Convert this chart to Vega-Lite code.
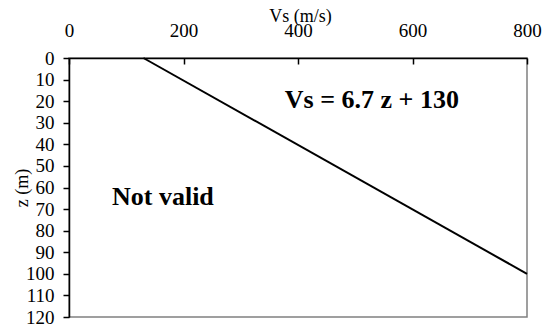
{
  "$schema": "https://vega.github.io/schema/vega-lite/v6.json",
  "width": 458,
  "height": 259,
  "autosize": {"type": "none"},
  "padding": {"left": 69, "top": 58, "right": 23, "bottom": 9},
  "background": "white",
  "config": {
    "font": "Liberation Serif",
    "view": {"stroke": "#808080", "strokeWidth": 1.5}
  },
  "encoding": {
    "x": {"field": "vs", "type": "quantitative", "scale": {"domain": [0, 800], "nice": false}, "axis": {"orient": "top", "title": "Vs (m/s)", "values": [0, 200, 400, 600, 800], "tickSize": -6, "labelPadding": 24, "titleY": -42, "titleBaseline": "middle", "titleX": 231, "labelFlush": false, "grid": false, "labelFont": "Liberation Serif", "titleFont": "Liberation Serif", "labelFontSize": 19, "titleFontSize": 18, "titleFontWeight": "normal", "labelColor": "black", "titleColor": "black", "domainColor": "black", "tickColor": "black", "domainWidth": 1.5, "tickWidth": 1.5}},
    "y": {"field": "z", "type": "quantitative", "scale": {"domain": [0, 120], "reverse": true, "nice": false}, "axis": {"title": "z (m)", "values": [0, 10, 20, 30, 40, 50, 60, 70, 80, 90, 100, 110, 120], "tickSize": 6, "labelPadding": 9, "titleX": -47, "titleBaseline": "middle", "labelFlush": false, "grid": false, "labelFont": "Liberation Serif", "titleFont": "Liberation Serif", "labelFontSize": 19, "titleFontSize": 18, "titleFontWeight": "normal", "labelColor": "black", "titleColor": "black", "domainColor": "black", "tickColor": "black", "domainWidth": 1.5, "tickWidth": 1.5}}
  },
  "layer": [
    {
      "data": {"values": [{"vs": 130, "z": 0}, {"vs": 800, "z": 100}]},
      "mark": {"type": "line", "color": "black", "strokeWidth": 2}
    },
    {
      "data": {"values": [{"vs": 529, "z": 19.5, "label": "Vs = 6.7 z + 130", "size": 25}, {"vs": 164, "z": 64.4, "label": "Not valid", "size": 26}]},
      "mark": {"type": "text", "font": "Liberation Serif", "fontSize": 26, "fontWeight": "bold", "color": "black", "baseline": "middle", "align": "center"},
      "encoding": {
        "text": {"field": "label"}
      }
    }
  ]
}
